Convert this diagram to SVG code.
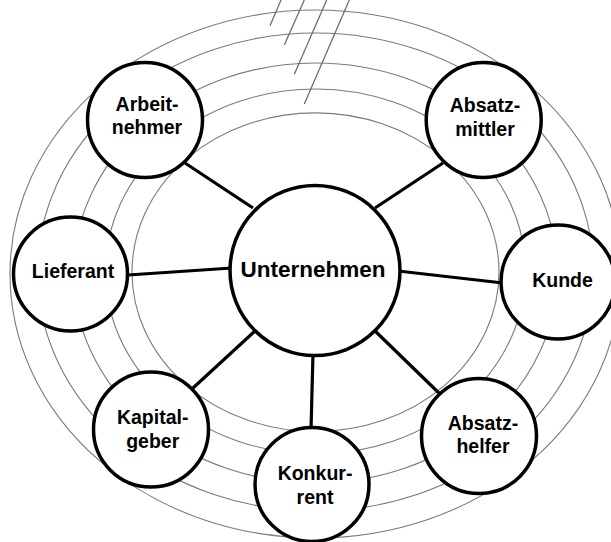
<svg xmlns="http://www.w3.org/2000/svg" width="611" height="542" viewBox="0 0 611 542">
<style>
.ring{fill:none;stroke:#7a7a7a;stroke-width:1.1}
.hatch{fill:none;stroke:#6e6e6e;stroke-width:1.3}
.conn{stroke:#000;stroke-width:3.2;stroke-linecap:butt}
.node circle{fill:#fff;stroke:#000;stroke-width:3.5}
.node text{font-family:"Liberation Sans",Arial,sans-serif;font-weight:bold;font-size:19.5px;text-anchor:middle;fill:#000}
#unternehmen text{font-size:22.5px}
</style>
<rect width="611" height="542" fill="#fff"/>
<g id="rings">
<ellipse class="ring" cx="315.5" cy="274" rx="305.5" ry="264"/>
<ellipse class="ring" cx="315.5" cy="272" rx="278" ry="239"/>
<ellipse class="ring" cx="315.5" cy="273" rx="242" ry="210"/>
<ellipse class="ring" cx="315.5" cy="271.5" rx="210" ry="182.5"/>
<ellipse class="ring" cx="315.5" cy="272.2" rx="183.5" ry="159.3"/>
</g>
<g id="hatch">
<line class="hatch" x1="281" y1="0" x2="270" y2="25.7"/>
<line class="hatch" x1="304.3" y1="0" x2="284.3" y2="45"/>
<line class="hatch" x1="326.7" y1="0" x2="294.3" y2="74.3"/>
<line class="hatch" x1="349.3" y1="0" x2="304.3" y2="104"/>
</g>
<g id="connectors">
<line class="conn" x1="185" y1="163" x2="253" y2="208"/>
<line class="conn" x1="443" y1="163" x2="375" y2="208"/>
<line class="conn" x1="128" y1="275" x2="232" y2="268"/>
<line class="conn" x1="398" y1="271" x2="503" y2="283"/>
<line class="conn" x1="193" y1="388" x2="255" y2="331"/>
<line class="conn" x1="313" y1="353" x2="311" y2="430"/>
<line class="conn" x1="373" y1="329" x2="442" y2="396"/>
</g>
<g id="unternehmen" class="node">
<circle cx="315" cy="270.5" r="85"/>
<text x="313" y="277">Unternehmen</text>
</g>
<g id="arbeitnehmer" class="node">
<circle cx="145" cy="120" r="57.5"/>
<text x="147" y="110.7">Arbeit-</text>
<text x="147" y="134">nehmer</text>
</g>
<g id="absatzmittler" class="node">
<circle cx="483.7" cy="120" r="57.5"/>
<text x="485" y="112.3">Absatz-</text>
<text x="485" y="136">mittler</text>
</g>
<g id="lieferant" class="node">
<circle cx="70.5" cy="274" r="57"/>
<text x="73" y="278">Lieferant</text>
</g>
<g id="kunde" class="node">
<circle cx="558" cy="282" r="57"/>
<text x="562.5" y="287">Kunde</text>
</g>
<g id="kapitalgeber" class="node">
<circle cx="151" cy="429.5" r="57.5"/>
<text x="152.7" y="424.3">Kapital-</text>
<text x="152.7" y="448">geber</text>
</g>
<g id="konkurrent" class="node">
<circle cx="312" cy="484.5" r="57"/>
<text x="315" y="480">Konkur-</text>
<text x="315" y="504">rent</text>
</g>
<g id="absatzhelfer" class="node">
<circle cx="479" cy="436" r="57.5"/>
<text x="483" y="430">Absatz-</text>
<text x="483" y="453.3">helfer</text>
</g>
</svg>
